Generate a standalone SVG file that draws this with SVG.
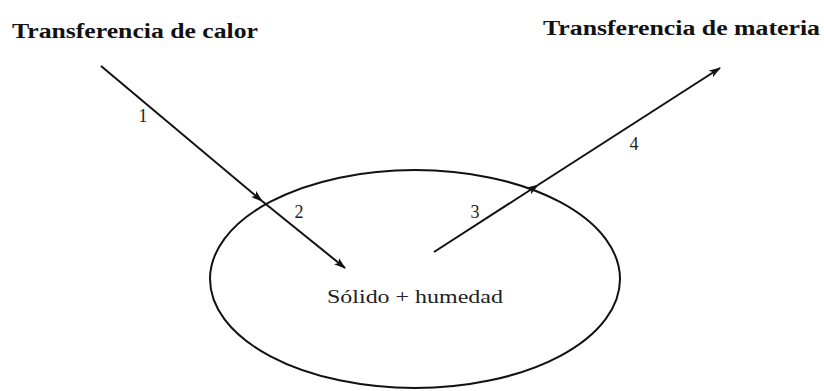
<svg xmlns="http://www.w3.org/2000/svg" width="824" height="391" viewBox="0 0 824 391">
<style>
.title{font-family:'Liberation Serif','Times New Roman',Times,serif;font-weight:bold;font-size:20px;fill:#111}
.lbl{font-family:'Liberation Serif','Times New Roman',Times,serif;font-size:18px;fill:#222}
.ln{stroke:#111;stroke-width:2;fill:none}
</style>
<defs>
<marker id="ah" viewBox="0 0 12 8" refX="11" refY="4" markerWidth="12" markerHeight="8" markerUnits="userSpaceOnUse" orient="auto">
<path d="M0,0 L12,4 L0,8 L3,4 Z" fill="#111"/>
</marker>
</defs>
<rect width="824" height="391" fill="#fff"/>
<g id="node-solido">
<ellipse cx="415" cy="279" rx="205" ry="109" class="ln"/>
<text class="lbl" x="415" y="303" text-anchor="middle" textLength="176" lengthAdjust="spacingAndGlyphs">Sólido + humedad</text>
</g>
<g id="node-calor">
<text class="title" x="12" y="38" textLength="246" lengthAdjust="spacingAndGlyphs">Transferencia de calor</text>
</g>
<g id="node-materia">
<text class="title" x="543" y="35" textLength="277" lengthAdjust="spacingAndGlyphs">Transferencia de materia</text>
</g>
<g id="connectors">
<path class="ln" d="M101,66 L262,201" marker-end="url(#ah)"/>
<path class="ln" d="M262,201 L345,268" marker-end="url(#ah)"/>
<path class="ln" d="M434,252 L538,185" marker-end="url(#ah)"/>
<path class="ln" d="M538,185 L720,68" marker-end="url(#ah)"/>
<text class="lbl" x="143" y="122" text-anchor="middle">1</text>
<text class="lbl" x="299" y="218" text-anchor="middle">2</text>
<text class="lbl" x="475" y="218" text-anchor="middle">3</text>
<text class="lbl" x="634" y="150" text-anchor="middle">4</text>
</g>
</svg>
